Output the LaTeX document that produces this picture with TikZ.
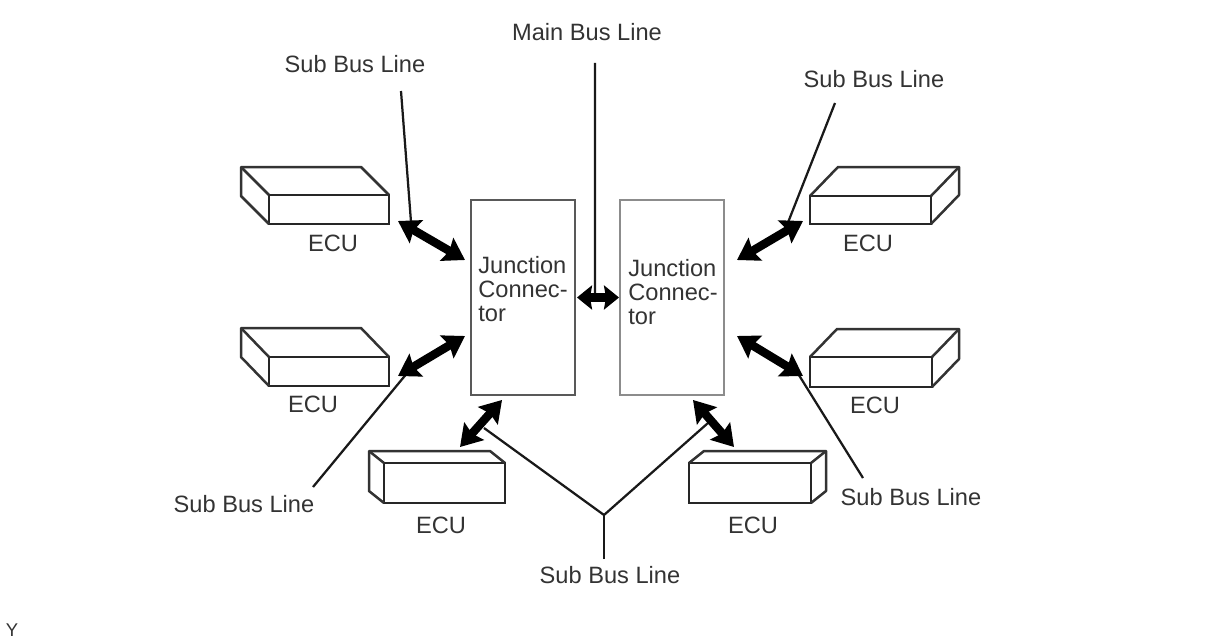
\documentclass[tikz,border=0pt]{standalone}
\usepackage{fontspec}
\setmainfont{Liberation Sans}
\usetikzlibrary{arrows.meta,positioning}

\begin{document}
\begin{tikzpicture}[x=0.02cm,y=-0.02cm]
  \tikzset{
  ecubox/.style={draw=black!85,line width=0.05cm,fill=white,inner sep=0pt,outer sep=0pt,anchor=north west},
  ecuedge/.style={draw=black!80,line width=0.05cm,line join=round},
  jbox/.style={line width=0.045cm,inner sep=0pt,outer sep=0pt,minimum width=2.08cm,minimum height=3.9cm},
  txt/.style={text=black!80,font=\fontsize{13.45}{13.6}\selectfont,inner sep=0pt},
  busarrow/.style={{Stealth[length=0.42cm,width=0.52cm,inset=0.06cm]}-{Stealth[length=0.42cm,width=0.52cm,inset=0.06cm]},line width=0.17cm},
  shortarrow/.style={{Stealth[length=0.3cm,width=0.48cm,inset=0.04cm]}-{Stealth[length=0.3cm,width=0.48cm,inset=0.04cm]},line width=0.18cm},
  leader/.style={black!90,line width=0.045cm},
  }
  \useasboundingbox (0,0) rectangle (1206,642);

  % the boxes open to the left
  \foreach \n/\x/\y/\w/\h/\dx/\dy in {ecu1/269/195/120/29/-28/-28,ecu2/269/357/120/29/-28/-29,ecu3/384/463/121/40/-15/-12}{
    \node[ecubox,minimum width=\w*0.02cm,minimum height=\h*0.02cm] (\n) at (\x,\y) {};
    \draw[ecuedge] (\n.south west) -- +(\dx,\dy) -- ([shift={(\dx,\dy)}]\n.north west) -- ([shift={(\dx,\dy)}]\n.north east) -- (\n.north east);
    \draw[ecuedge] ([shift={(\dx,\dy)}]\n.north west) -- (\n.north west);
  }
  % the boxes open to the right
  \foreach \n/\x/\y/\w/\h/\dx/\dy in {ecu4/689/463/122/40/15/-12,ecu5/810/196/121/28/28/-29,ecu6/810/357/122/30/27/-28}{
    \node[ecubox,minimum width=\w*0.02cm,minimum height=\h*0.02cm] (\n) at (\x,\y) {};
    \draw[ecuedge] (\n.south east) -- +(\dx,\dy) -- ([shift={(\dx,\dy)}]\n.north east) -- ([shift={(\dx,\dy)}]\n.north west) -- (\n.north west);
    \draw[ecuedge] ([shift={(\dx,\dy)}]\n.north east) -- (\n.north east);
  }

  % the ecu names
  \node[txt] (name1) at (333,243) {ECU};
  \node[txt] (name2) at (313,404) {ECU};
  \node[txt] (name3) at (441,525) {ECU};
  \node[txt] (name4) at (753,525) {ECU};
  \node[txt] (name5) at (868,243) {ECU};
  \node[txt] (name6) at (875,405) {ECU};

  % the junction connectors
  \node[jbox,draw=black!65] (j1) at (523,297.5) {};
  \node[jbox,draw=black!45] (j2) at (672,297.5) {};
  \node[txt,anchor=west,align=left] (j1text) at (478,289) {Junction\\Connec-\\tor};
  \node[txt,anchor=west,align=left] (j2text) at (628,292) {Junction\\Connec-\\tor};

  % the line names
  \node[txt] (mainbus) at (587,32) {Main Bus Line};
  \node[txt] (sub1) at (355,64) {Sub Bus Line};
  \node[txt] (sub2) at (874,79) {Sub Bus Line};
  \node[txt] (sub3) at (244,504) {Sub Bus Line};
  \node[txt] (sub4) at (911,497) {Sub Bus Line};
  \node[txt] (sub5) at (610,575) {Sub Bus Line};

  % the thin lines to the arrows
  \draw[leader] ([shift={(8,31)}]mainbus.center) -- ([shift={(20,0)}]j1.east);
  \draw[leader] ([shift={(46,27)}]sub1.center) -- ([shift={(22,-2)}]ecu1.south east);
  \draw[leader] ([shift={(-39,24)}]sub2.center) -- ([shift={(-23,1)}]ecu5.south west);
  \draw[leader] ([shift={(69,-17)}]sub3.center) -- ([shift={(19,-14)}]ecu2.south east);
  \draw[leader] ([shift={(-48,-19)}]sub4.center) -- ([shift={(-13,-15)}]ecu6.south west);
  \coordinate (fork) at ([shift={(-6,-60)}]sub5.center);
  \draw[leader] ([shift={(-6,-16)}]sub5.center) -- (fork);
  \draw[leader] (fork) -- ([shift={(39.5,-35)}]ecu3.north);
  \draw[leader] (fork) -- ([shift={(-42,-40)}]ecu4.north);

  % the thick arrows
  \draw[busarrow] ([shift={(9,-3)}]ecu1.south east) -- ([shift={(-6,-37.5)}]j1.west);
  \draw[busarrow] ([shift={(9,-10)}]ecu2.south east) -- ([shift={(-6,38.5)}]j1.west);
  \draw[busarrow] ([shift={(15.5,-16)}]ecu3.north) -- ([shift={(-21,5)}]j1.south);
  \draw[busarrow] ([shift={(-16,-16)}]ecu4.north) -- ([shift={(21,5)}]j2.south);
  \draw[busarrow] ([shift={(-7,-3)}]ecu5.south west) -- ([shift={(13,-37.5)}]j2.east);
  \draw[busarrow] ([shift={(-7,-11)}]ecu6.south west) -- ([shift={(13,38.5)}]j2.east);
  \draw[shortarrow] ([shift={(2,0)}]j1.east) -- ([shift={(-1,0)}]j2.west);

  \node[txt,font=\fontsize{10.5}{12}\selectfont] (ymark) at (12,630) {Y};
\end{tikzpicture}
\end{document}
